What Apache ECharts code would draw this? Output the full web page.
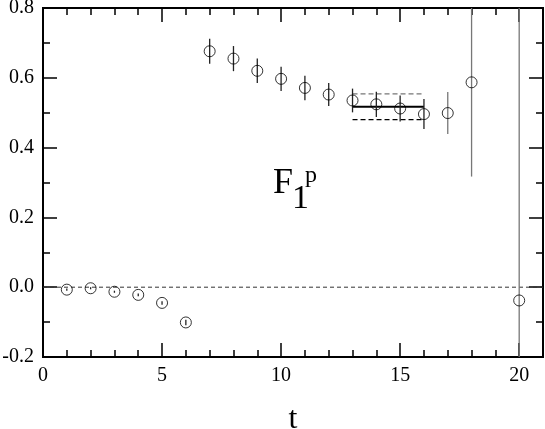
<!DOCTYPE html>
<html>
<head>
<meta charset="utf-8">
<script src="https://cdn.jsdelivr.net/npm/echarts@6/dist/echarts.min.js"></script>
<style>
  html, body { margin: 0; padding: 0; background: #fff; }
  #chart { width: 545px; height: 429px; }
</style>
</head>
<body>
<div id="chart"></div>
<script>
// time slices and F1^p effective values with their errors
const tValues = [1, 2, 3, 4, 5, 6, 7, 8, 9, 10, 11, 12, 13, 14, 15, 16, 17, 18, 20]
const f1pValues = [-0.007, -0.003, -0.013, -0.022, -0.045, -0.101, 0.676, 0.655, 0.620, 0.597, 0.571, 0.552, 0.535, 0.524, 0.512, 0.496, 0.499, 0.587, -0.038]
const f1pErrors = [0.003, 0.003, 0.003, 0.004, 0.005, 0.008, 0.036, 0.036, 0.035, 0.035, 0.035, 0.033, 0.034, 0.036, 0.037, 0.043, 0.060, 0.270, 1.500]

// plateau fit
const fitRange = [13, 16]
const fitValue = 0.517
const fitError = 0.037

const xTickLabels = [0, 5, 10, 15, 20]
const yTickLabels = [-0.2, 0.0, 0.2, 0.4, 0.6, 0.8]

const serif = "'Liberation Serif', 'DejaVu Serif', serif"
const xMin = 0, xMax = 21
const yMin = -0.2, yMax = 0.8

const chart = echarts.init(document.getElementById('chart'))

function xAxis(position, interval, tickLen, labels) {
  return {
    type: 'value',
    position: position,
    min: xMin,
    max: xMax,
    interval: interval,
    axisLine: { show: true, onZero: false, lineStyle: { color: '#000', width: 2 } },
    axisTick: { show: true, inside: true, length: tickLen, lineStyle: { color: '#000', width: 1.5 } },
    axisLabel: {
      show: labels,
      margin: 9,
      fontFamily: serif,
      fontSize: 20,
      color: '#000',
      showMaxLabel: false,
      formatter: v => xTickLabels.includes(v) ? String(v) : ''
    },
    splitLine: { show: false }
  }
}

function yAxis(position, interval, tickLen, labels) {
  return {
    type: 'value',
    position: position,
    min: yMin,
    max: yMax,
    interval: interval,
    axisLine: { show: true, onZero: false, lineStyle: { color: '#000', width: 2 } },
    axisTick: { show: true, inside: true, length: tickLen, lineStyle: { color: '#000', width: 1.5 } },
    axisLabel: {
      show: labels,
      margin: 9,
      fontFamily: serif,
      fontSize: 20,
      color: '#000',
      formatter: v => {
        const r = Math.round(v * 10) / 10
        return yTickLabels.includes(r) ? r.toFixed(1) : ''
      }
    },
    splitLine: { show: false }
  }
}

const xBottom = xAxis('bottom', 5, 14, true)
xBottom.name = 't'
xBottom.nameLocation = 'middle'
xBottom.nameGap = 47
xBottom.nameTextStyle = { fontFamily: serif, fontSize: 32, color: '#000' }

const errData = tValues.map((t, i) => [t, f1pValues[i] - f1pErrors[i], f1pValues[i] + f1pErrors[i]])
const pointData = tValues.map((t, i) => [t, f1pValues[i]])

chart.setOption({
  animation: false,
  grid: { left: 43, right: 2, top: 8, bottom: 72, containLabel: false, outerBoundsMode: 'none' },
  xAxis: [
    xBottom,
    xAxis('bottom', 1, 7, false),
    xAxis('top', 5, 14, false),
    xAxis('top', 1, 7, false)
  ],
  yAxis: [
    yAxis('left', 0.2, 14, true),
    yAxis('left', 0.1, 7, false),
    yAxis('right', 0.2, 14, false),
    yAxis('right', 0.1, 7, false)
  ],
  graphic: [
    { type: 'text', left: 273, top: 166, style: { text: 'F', fontFamily: serif, fontSize: 36, fill: '#000' } },
    { type: 'text', left: 292, top: 182, style: { text: '1', fontFamily: serif, fontSize: 34, fill: '#000' } },
    { type: 'text', left: 305, top: 164, style: { text: 'p', fontFamily: serif, fontSize: 24, fill: '#000' } }
  ],
  series: [
    {
      // zero line
      type: 'line',
      data: [[xMin, 0], [xMax, 0]],
      symbol: 'none',
      silent: true,
      lineStyle: { color: '#333', width: 1, type: [4, 3] },
      z: 1
    },
    {
      type: 'line',
      data: fitRange.map(t => [t, fitValue]),
      symbol: 'none',
      lineStyle: { color: '#000', width: 2 },
      z: 2
    },
    {
      type: 'line',
      data: fitRange.map(t => [t, fitValue + fitError]),
      symbol: 'none',
      lineStyle: { color: '#777', width: 1.2, type: [5, 3] },
      z: 2
    },
    {
      type: 'line',
      data: fitRange.map(t => [t, fitValue - fitError]),
      symbol: 'none',
      lineStyle: { color: '#000', width: 1.2, type: [5, 3] },
      z: 2
    },
    {
      // error bars
      type: 'custom',
      clip: true,
      data: errData,
      renderItem: function (params, api) {
        const t = api.value(0)
        const lo = api.coord([t, api.value(1)])
        const hi = api.coord([t, api.value(2)])
        return {
          type: 'line',
          shape: { x1: lo[0], y1: lo[1], x2: hi[0], y2: hi[1] },
          style: { stroke: t >= 17 ? '#777' : '#222', lineWidth: 1.3 }
        }
      },
      z: 3
    },
    {
      type: 'scatter',
      data: pointData,
      symbol: 'circle',
      symbolSize: 11,
      itemStyle: { color: 'transparent', borderColor: '#000', borderWidth: 1 },
      z: 4
    }
  ]
})
</script>
</body>
</html>
